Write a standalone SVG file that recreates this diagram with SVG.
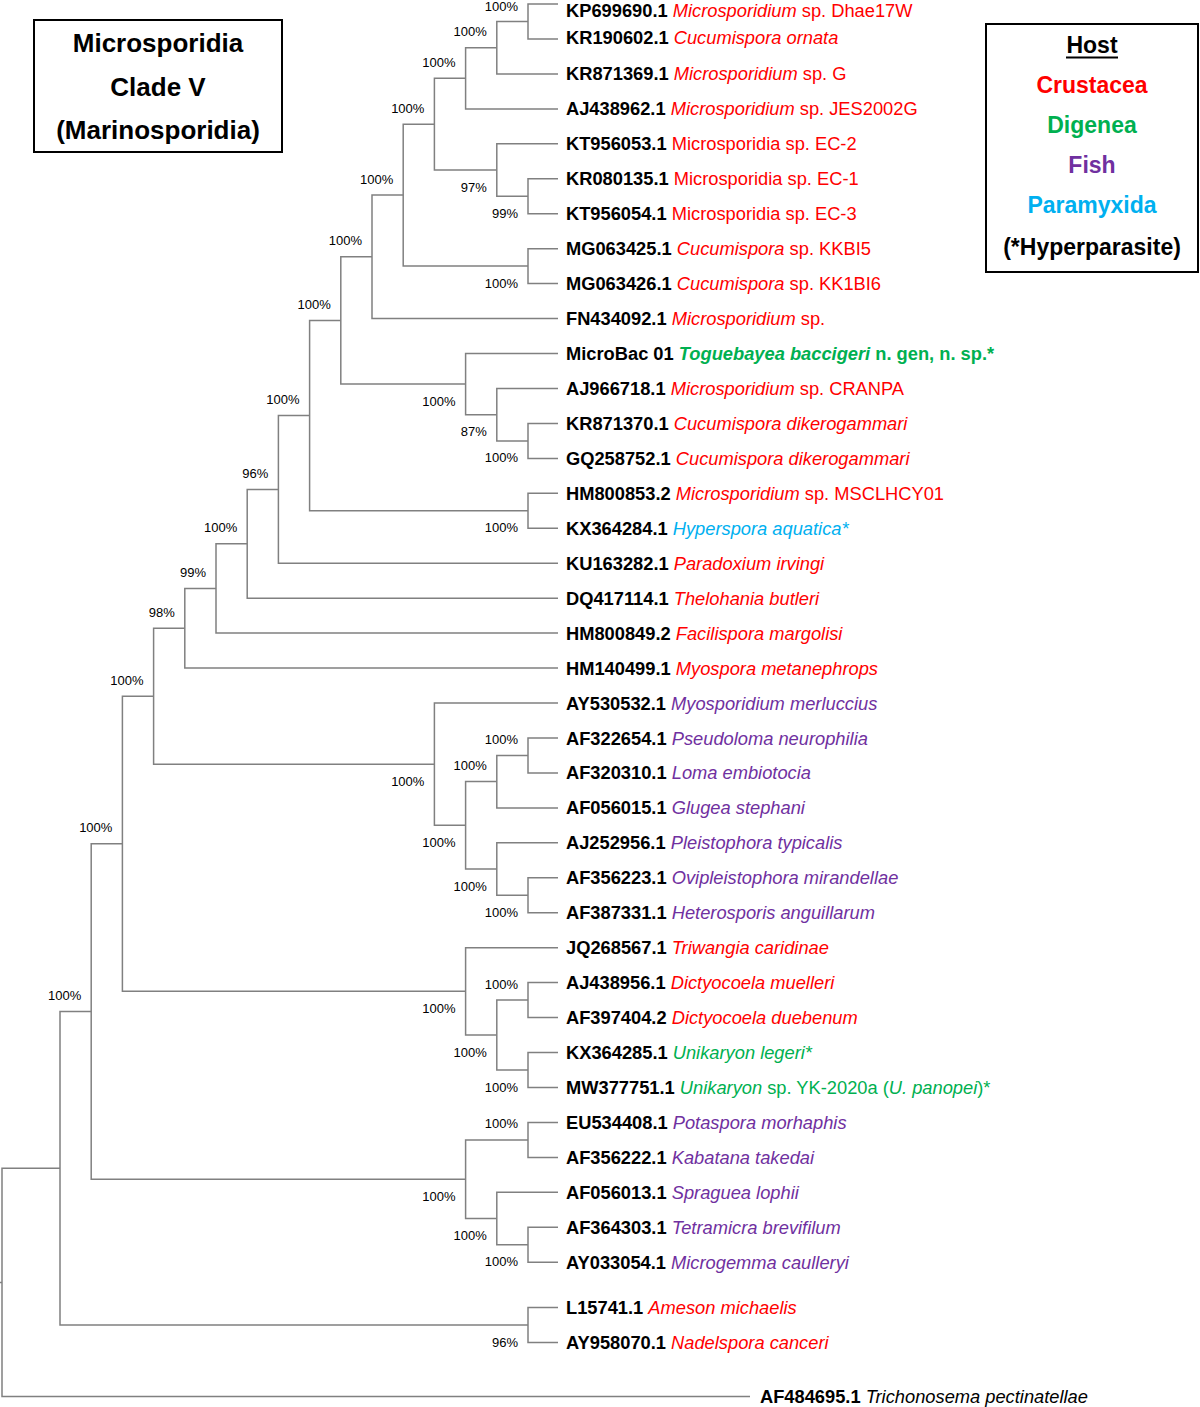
<svg xmlns="http://www.w3.org/2000/svg" width="1200" height="1407" viewBox="0 0 1200 1407">
<style>
.br{fill:none;stroke:#808080;stroke-width:1.5}
.lf{font-family:"Liberation Sans",Arial,sans-serif;font-size:18.3px}
.acc{font-weight:bold;fill:#000}
.cr{fill:#ff0000}.dg{fill:#00b050}.fi{fill:#7030a0}.pa{fill:#00b0f0}.bk{fill:#000}
.it{font-style:italic}
.bs{font-family:"Liberation Sans",Arial,sans-serif;font-size:13px;text-anchor:end;fill:#000}
.box{fill:#fff;stroke:#000;stroke-width:2}
.tt{font-family:"Liberation Sans",Arial,sans-serif;font-size:26px;font-weight:bold;text-anchor:middle;fill:#000}
.lg{font-family:"Liberation Sans",Arial,sans-serif;font-size:23px;font-weight:bold;text-anchor:middle}
</style>
<rect width="1200" height="1407" fill="#fff"/>
<g id="title">
<rect class="box" x="34" y="20" width="248" height="132"/>
<text class="tt" x="158" y="52">Microsporidia</text>
<text class="tt" x="158" y="96">Clade V</text>
<text class="tt" x="158" y="139">(Marinosporidia)</text>
</g>
<g id="legend">
<rect class="box" x="986" y="24" width="212" height="248"/>
<text class="lg bk" x="1092" y="53">Host</text>
<line x1="1066" y1="57.5" x2="1118" y2="57.5" stroke="#000" stroke-width="2"/>
<text class="lg cr" x="1092" y="93">Crustacea</text>
<text class="lg dg" x="1092" y="133">Digenea</text>
<text class="lg fi" x="1092" y="173">Fish</text>
<text class="lg pa" x="1092" y="213">Paramyxida</text>
<text class="lg bk" x="1092" y="255">(*Hyperparasite)</text>
</g>
<g id="connectors">
<path class="br" d="M558 4 H528 V39 H558"/>
<path class="br" d="M528 21.5 H496.8 V73.9 H558"/>
<path class="br" d="M496.8 47.7 H465.6 V108.9 H558"/>
<path class="br" d="M558 178.8 H528 V213.7 H558"/>
<path class="br" d="M558 143.8 H496.8 V196.2 H528"/>
<path class="br" d="M465.6 78.3 H434.4 V170 H496.8"/>
<path class="br" d="M558 248.7 H528 V283.6 H558"/>
<path class="br" d="M434.4 124.2 H403.2 V266.1 H528"/>
<path class="br" d="M403.2 195.1 H372 V318.6 H558"/>
<path class="br" d="M558 423.4 H528 V458.4 H558"/>
<path class="br" d="M558 388.5 H496.8 V440.9 H528"/>
<path class="br" d="M558 353.5 H465.6 V414.7 H496.8"/>
<path class="br" d="M372 256.8 H340.8 V384.1 H465.6"/>
<path class="br" d="M558 493.3 H528 V528.3 H558"/>
<path class="br" d="M340.8 320.5 H309.6 V510.8 H528"/>
<path class="br" d="M309.6 415.6 H278.4 V563.2 H558"/>
<path class="br" d="M278.4 489.4 H247.2 V598.2 H558"/>
<path class="br" d="M247.2 543.8 H216 V633.1 H558"/>
<path class="br" d="M216 588.5 H184.8 V668.1 H558"/>
<path class="br" d="M558 738 H528 V772.9 H558"/>
<path class="br" d="M528 755.4 H496.8 V807.9 H558"/>
<path class="br" d="M558 877.8 H528 V912.7 H558"/>
<path class="br" d="M558 842.8 H496.8 V895.2 H528"/>
<path class="br" d="M496.8 781.6 H465.6 V869 H496.8"/>
<path class="br" d="M558 703 H434.4 V825.3 H465.6"/>
<path class="br" d="M184.8 628.3 H153.6 V764.2 H434.4"/>
<path class="br" d="M558 982.6 H528 V1017.6 H558"/>
<path class="br" d="M558 1052.5 H528 V1087.5 H558"/>
<path class="br" d="M528 1000.1 H496.8 V1070 H528"/>
<path class="br" d="M558 947.7 H465.6 V1035 H496.8"/>
<path class="br" d="M153.6 696.2 H122.4 V991.3 H465.6"/>
<path class="br" d="M558 1122.4 H528 V1157.4 H558"/>
<path class="br" d="M558 1227.3 H528 V1262.2 H558"/>
<path class="br" d="M558 1192.3 H496.8 V1244.7 H528"/>
<path class="br" d="M528 1139.9 H465.6 V1218.5 H496.8"/>
<path class="br" d="M122.4 843.8 H91.2 V1179.2 H465.6"/>
<path class="br" d="M558 1307.5 H528 V1342.5 H558"/>
<path class="br" d="M91.2 1011.5 H60 V1325 H528"/>
<path class="br" d="M60 1168.3 H2 V1396.5 H750"/>
<path class="br" d="M0 1282.4 H2"/>
</g>
<g id="bootstrap">
<text class="bs" x="518" y="11">100%</text>
<text class="bs" x="486.8" y="36.2">100%</text>
<text class="bs" x="455.6" y="66.8">100%</text>
<text class="bs" x="424.4" y="112.7">100%</text>
<text class="bs" x="393.2" y="183.6">100%</text>
<text class="bs" x="362" y="245.3">100%</text>
<text class="bs" x="330.8" y="309">100%</text>
<text class="bs" x="299.6" y="404.1">100%</text>
<text class="bs" x="268.4" y="477.9">96%</text>
<text class="bs" x="237.2" y="532.3">100%</text>
<text class="bs" x="206" y="577">99%</text>
<text class="bs" x="174.8" y="616.8">98%</text>
<text class="bs" x="143.6" y="684.7">100%</text>
<text class="bs" x="112.4" y="832.3">100%</text>
<text class="bs" x="81.2" y="1000">100%</text>
<text class="bs" x="486.8" y="191.5">97%</text>
<text class="bs" x="518" y="217.7">99%</text>
<text class="bs" x="518" y="287.6">100%</text>
<text class="bs" x="455.6" y="405.6">100%</text>
<text class="bs" x="486.8" y="436.2">87%</text>
<text class="bs" x="518" y="462.4">100%</text>
<text class="bs" x="518" y="532.3">100%</text>
<text class="bs" x="518" y="743.9">100%</text>
<text class="bs" x="486.8" y="770.1">100%</text>
<text class="bs" x="424.4" y="785.7">100%</text>
<text class="bs" x="455.6" y="846.8">100%</text>
<text class="bs" x="486.8" y="890.5">100%</text>
<text class="bs" x="518" y="916.7">100%</text>
<text class="bs" x="518" y="988.6">100%</text>
<text class="bs" x="455.6" y="1012.8">100%</text>
<text class="bs" x="486.8" y="1056.5">100%</text>
<text class="bs" x="518" y="1091.5">100%</text>
<text class="bs" x="518" y="1128.4">100%</text>
<text class="bs" x="455.6" y="1200.7">100%</text>
<text class="bs" x="486.8" y="1240">100%</text>
<text class="bs" x="518" y="1266.2">100%</text>
<text class="bs" x="518" y="1346.5">96%</text>
</g>
<g id="leaf-KP699690"><text class="lf" x="566" y="16.8"><tspan class="acc">KP699690.1</tspan> <tspan class="cr"><tspan class="it">Microsporidium</tspan> sp. Dhae17W</tspan></text></g>
<g id="leaf-KR190602"><text class="lf" x="566" y="43.5"><tspan class="acc">KR190602.1</tspan> <tspan class="cr it">Cucumispora ornata</tspan></text></g>
<g id="leaf-KR871369"><text class="lf" x="566" y="80.4"><tspan class="acc">KR871369.1</tspan> <tspan class="cr"><tspan class="it">Microsporidium</tspan> sp. G</tspan></text></g>
<g id="leaf-AJ438962"><text class="lf" x="566" y="115.4"><tspan class="acc">AJ438962.1</tspan> <tspan class="cr"><tspan class="it">Microsporidium</tspan> sp. JES2002G</tspan></text></g>
<g id="leaf-KT956053"><text class="lf" x="566" y="150.3"><tspan class="acc">KT956053.1</tspan> <tspan class="cr">Microsporidia sp. EC-2</tspan></text></g>
<g id="leaf-KR080135"><text class="lf" x="566" y="185.3"><tspan class="acc">KR080135.1</tspan> <tspan class="cr">Microsporidia sp. EC-1</tspan></text></g>
<g id="leaf-KT956054"><text class="lf" x="566" y="220.2"><tspan class="acc">KT956054.1</tspan> <tspan class="cr">Microsporidia sp. EC-3</tspan></text></g>
<g id="leaf-MG063425"><text class="lf" x="566" y="255.2"><tspan class="acc">MG063425.1</tspan> <tspan class="cr"><tspan class="it">Cucumispora</tspan> sp. KKBI5</tspan></text></g>
<g id="leaf-MG063426"><text class="lf" x="566" y="290.1"><tspan class="acc">MG063426.1</tspan> <tspan class="cr"><tspan class="it">Cucumispora</tspan> sp. KK1BI6</tspan></text></g>
<g id="leaf-FN434092"><text class="lf" x="566" y="325.1"><tspan class="acc">FN434092.1</tspan> <tspan class="cr"><tspan class="it">Microsporidium</tspan> sp.</tspan></text></g>
<g id="leaf-MicroBac01"><text class="lf" x="566" y="360"><tspan class="acc">MicroBac 01</tspan> <tspan class="dg" font-weight="bold"><tspan class="it">Toguebayea baccigeri</tspan> n. gen, n. sp.*</tspan></text></g>
<g id="leaf-AJ966718"><text class="lf" x="566" y="395"><tspan class="acc">AJ966718.1</tspan> <tspan class="cr"><tspan class="it">Microsporidium</tspan> sp. CRANPA</tspan></text></g>
<g id="leaf-KR871370"><text class="lf" x="566" y="429.9"><tspan class="acc">KR871370.1</tspan> <tspan class="cr it">Cucumispora dikerogammari</tspan></text></g>
<g id="leaf-GQ258752"><text class="lf" x="566" y="464.9"><tspan class="acc">GQ258752.1</tspan> <tspan class="cr it">Cucumispora dikerogammari</tspan></text></g>
<g id="leaf-HM800853"><text class="lf" x="566" y="499.8"><tspan class="acc">HM800853.2</tspan> <tspan class="cr"><tspan class="it">Microsporidium</tspan> sp. MSCLHCY01</tspan></text></g>
<g id="leaf-KX364284"><text class="lf" x="566" y="534.8"><tspan class="acc">KX364284.1</tspan> <tspan class="pa it">Hyperspora aquatica*</tspan></text></g>
<g id="leaf-KU163282"><text class="lf" x="566" y="569.7"><tspan class="acc">KU163282.1</tspan> <tspan class="cr it">Paradoxium irvingi</tspan></text></g>
<g id="leaf-DQ417114"><text class="lf" x="566" y="604.7"><tspan class="acc">DQ417114.1</tspan> <tspan class="cr it">Thelohania butleri</tspan></text></g>
<g id="leaf-HM800849"><text class="lf" x="566" y="639.6"><tspan class="acc">HM800849.2</tspan> <tspan class="cr it">Facilispora margolisi</tspan></text></g>
<g id="leaf-HM140499"><text class="lf" x="566" y="674.6"><tspan class="acc">HM140499.1</tspan> <tspan class="cr it">Myospora metanephrops</tspan></text></g>
<g id="leaf-AY530532"><text class="lf" x="566" y="709.5"><tspan class="acc">AY530532.1</tspan> <tspan class="fi it">Myosporidium merluccius</tspan></text></g>
<g id="leaf-AF322654"><text class="lf" x="566" y="744.5"><tspan class="acc">AF322654.1</tspan> <tspan class="fi it">Pseudoloma neurophilia</tspan></text></g>
<g id="leaf-AF320310"><text class="lf" x="566" y="779.4"><tspan class="acc">AF320310.1</tspan> <tspan class="fi it">Loma embiotocia</tspan></text></g>
<g id="leaf-AF056015"><text class="lf" x="566" y="814.4"><tspan class="acc">AF056015.1</tspan> <tspan class="fi it">Glugea stephani</tspan></text></g>
<g id="leaf-AJ252956"><text class="lf" x="566" y="849.3"><tspan class="acc">AJ252956.1</tspan> <tspan class="fi it">Pleistophora typicalis</tspan></text></g>
<g id="leaf-AF356223"><text class="lf" x="566" y="884.3"><tspan class="acc">AF356223.1</tspan> <tspan class="fi it">Ovipleistophora mirandellae</tspan></text></g>
<g id="leaf-AF387331"><text class="lf" x="566" y="919.2"><tspan class="acc">AF387331.1</tspan> <tspan class="fi it">Heterosporis anguillarum</tspan></text></g>
<g id="leaf-JQ268567"><text class="lf" x="566" y="954.2"><tspan class="acc">JQ268567.1</tspan> <tspan class="cr it">Triwangia caridinae</tspan></text></g>
<g id="leaf-AJ438956"><text class="lf" x="566" y="989.1"><tspan class="acc">AJ438956.1</tspan> <tspan class="cr it">Dictyocoela muelleri</tspan></text></g>
<g id="leaf-AF397404"><text class="lf" x="566" y="1024.1"><tspan class="acc">AF397404.2</tspan> <tspan class="cr it">Dictyocoela duebenum</tspan></text></g>
<g id="leaf-KX364285"><text class="lf" x="566" y="1059"><tspan class="acc">KX364285.1</tspan> <tspan class="dg it">Unikaryon legeri*</tspan></text></g>
<g id="leaf-MW377751"><text class="lf" x="566" y="1094"><tspan class="acc">MW377751.1</tspan> <tspan class="dg"><tspan class="it">Unikaryon</tspan> sp. YK-2020a (<tspan class="it">U. panopei</tspan>)*</tspan></text></g>
<g id="leaf-EU534408"><text class="lf" x="566" y="1128.9"><tspan class="acc">EU534408.1</tspan> <tspan class="fi it">Potaspora morhaphis</tspan></text></g>
<g id="leaf-AF356222"><text class="lf" x="566" y="1163.9"><tspan class="acc">AF356222.1</tspan> <tspan class="fi it">Kabatana takedai</tspan></text></g>
<g id="leaf-AF056013"><text class="lf" x="566" y="1198.8"><tspan class="acc">AF056013.1</tspan> <tspan class="fi it">Spraguea lophii</tspan></text></g>
<g id="leaf-AF364303"><text class="lf" x="566" y="1233.8"><tspan class="acc">AF364303.1</tspan> <tspan class="fi it">Tetramicra brevifilum</tspan></text></g>
<g id="leaf-AY033054"><text class="lf" x="566" y="1268.7"><tspan class="acc">AY033054.1</tspan> <tspan class="fi it">Microgemma caulleryi</tspan></text></g>
<g id="leaf-L15741"><text class="lf" x="566" y="1314"><tspan class="acc">L15741.1</tspan> <tspan class="cr it">Ameson michaelis</tspan></text></g>
<g id="leaf-AY958070"><text class="lf" x="566" y="1349"><tspan class="acc">AY958070.1</tspan> <tspan class="cr it">Nadelspora canceri</tspan></text></g>
<g id="leaf-AF484695"><text class="lf" x="760" y="1403"><tspan class="acc">AF484695.1</tspan> <tspan class="bk it">Trichonosema pectinatellae</tspan></text></g>
</svg>
